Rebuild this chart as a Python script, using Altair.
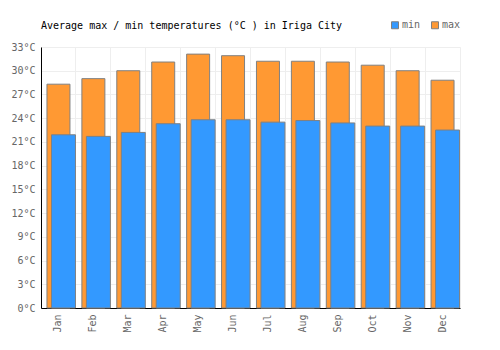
import altair as alt
import pandas as pd

months = ["Jan", "Feb", "Mar", "Apr", "May", "Jun", "Jul", "Aug", "Sep", "Oct", "Nov", "Dec"]
max_temps = [28.3, 29.0, 30.0, 31.1, 32.1, 31.9, 31.2, 31.2, 31.1, 30.7, 30.0, 28.8]
min_temps = [21.9, 21.7, 22.2, 23.3, 23.8, 23.8, 23.5, 23.7, 23.4, 23.0, 23.0, 22.5]
y_ticks = list(range(0, 34, 3))

df_max = pd.DataFrame({"month": months, "temp": max_temps, "series": "max"})
df_min = pd.DataFrame({"month": months, "temp": min_temps, "series": "min"})

FONT = "DejaVu Sans Mono"

x = alt.X("month:N", sort=months, title=None,
          scale=alt.Scale(paddingInner=0, paddingOuter=0),
          axis=alt.Axis(labelAngle=270, labelFontSize=10, labelColor="#666666",
                        labelFont=FONT, ticks=False, domainColor="#000000",
                        gridColor="#eeeeee", grid=True, bandPosition=0, labelPadding=6))
y = alt.Y("temp:Q", title=None,
          scale=alt.Scale(domain=[0, 33], nice=False),
          axis=alt.Axis(values=y_ticks, labelExpr="datum.value + '°C'", labelFontSize=10,
                        labelColor="#666666", labelFont=FONT, ticks=False,
                        domainColor="#000000", gridColor="#eeeeee", labelPadding=6))
color = alt.Color("series:N",
                  scale=alt.Scale(domain=["min", "max"], range=["#3399ff", "#ff9933"]),
                  legend=alt.Legend(title=None, orient="none", legendX=349, legendY=-27,
                                    direction="horizontal", symbolType="square",
                                    symbolSize=49, symbolStrokeColor="#808080",
                                    symbolStrokeWidth=1, symbolOpacity=1,
                                    labelFont=FONT, labelFontSize=10, labelColor="#666666",
                                    labelOffset=2, columnPadding=8))

bar_max = alt.Chart(df_max).mark_bar(width=23, xOffset=0, stroke="#808080",
                                     strokeWidth=1, opacity=1).encode(x=x, y=y, color=color)
bar_min = alt.Chart(df_min).mark_bar(width=24, xOffset=5, stroke="#808080",
                                     strokeWidth=1, opacity=1).encode(x=x, y=y, color=color)

chart = alt.layer(bar_max, bar_min).properties(
    width=419, height=261,
    title=alt.TitleParams("Average max / min temperatures (°C ) in Iriga City",
                          anchor="start", frame="group", font=FONT, fontSize=10,
                          fontWeight="normal", color="#000000", offset=14, dy=25),
    autosize=alt.AutoSizeParams(type="none"),
    padding={"left": 41, "top": 47, "right": 40, "bottom": 42},
    background="white",
).configure_view(stroke="#eeeeee")

chart.save("out.html", embed_options={"renderer": "svg", "actions": False})
